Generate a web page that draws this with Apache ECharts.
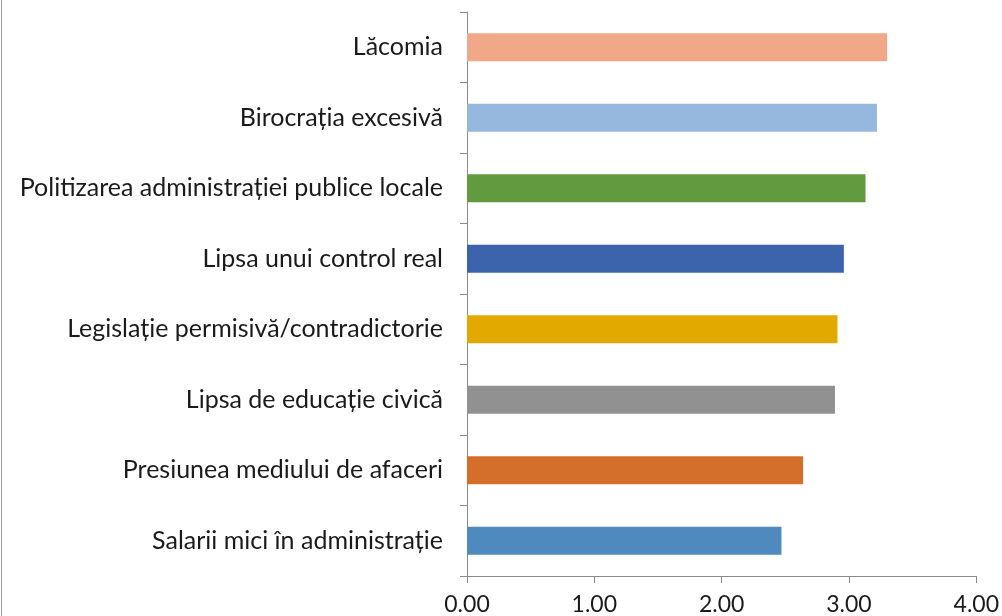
<!DOCTYPE html>
<html>
<head>
<meta charset="utf-8">
<script src="https://cdn.jsdelivr.net/npm/echarts@6/dist/echarts.min.js"></script>
<style>
  html, body { margin: 0; padding: 0; background: #fff; }
  #main { width: 1002px; height: 616px; }
</style>
</head>
<body>
<div id="main"></div>
<script>
// categorii, de sus in jos
var categories = [
    'Lăcomia',
    'Birocrația excesivă',
    'Politizarea administrației publice locale',
    'Lipsa unui control real',
    'Legislație permisivă/contradictorie',
    'Lipsa de educație civică',
    'Presiunea mediului de afaceri',
    'Salarii mici în administrație'
];
var values = [3.30, 3.22, 3.13, 2.96, 2.91, 2.89, 2.64, 2.47];
var colors = ['#F0A889', '#97B8DE', '#629A40', '#3B64AD', '#E2AA00', '#919191', '#D36F2B', '#4F8ABE'];
var xTicks = [0, 1, 2, 3, 4];

var myChart = echarts.init(document.getElementById('main'));
var option = {
    animation: false,
    grid: { left: 467, right: 24, top: 12, bottom: 38 },
    xAxis: {
        type: 'value',
        min: xTicks[0],
        max: xTicks[xTicks.length - 1],
        interval: 1,
        axisLine: { show: true, lineStyle: { color: '#898989', width: 1 } },
        axisTick: { show: true, length: 7, lineStyle: { color: '#898989' } },
        splitLine: { show: false },
        axisLabel: {
            margin: 17,
            fontFamily: 'Lato',
            fontSize: 23,
            color: '#1a1a1a',
            formatter: function (v) { return v.toFixed(2); }
        }
    },
    yAxis: {
        type: 'category',
        inverse: true,
        data: categories,
        axisLine: { show: true, lineStyle: { color: '#898989', width: 1 } },
        axisTick: { show: true, length: 7, lineStyle: { color: '#898989' } },
        axisLabel: {
            margin: 24,
            fontFamily: 'Lato',
            fontSize: 25,
            color: '#1a1a1a'
        }
    },
    series: [{
        type: 'bar',
        barWidth: 28,
        data: values.map(function (v, i) {
            return { value: v, itemStyle: { color: colors[i] } };
        })
    }],
    graphic: [{
        type: 'line',
        shape: { x1: 1.5, y1: 0, x2: 1.5, y2: 616 },
        style: { stroke: '#9a9a9a', lineWidth: 1 }
    }]
};
myChart.setOption(option);
</script>
</body>
</html>
